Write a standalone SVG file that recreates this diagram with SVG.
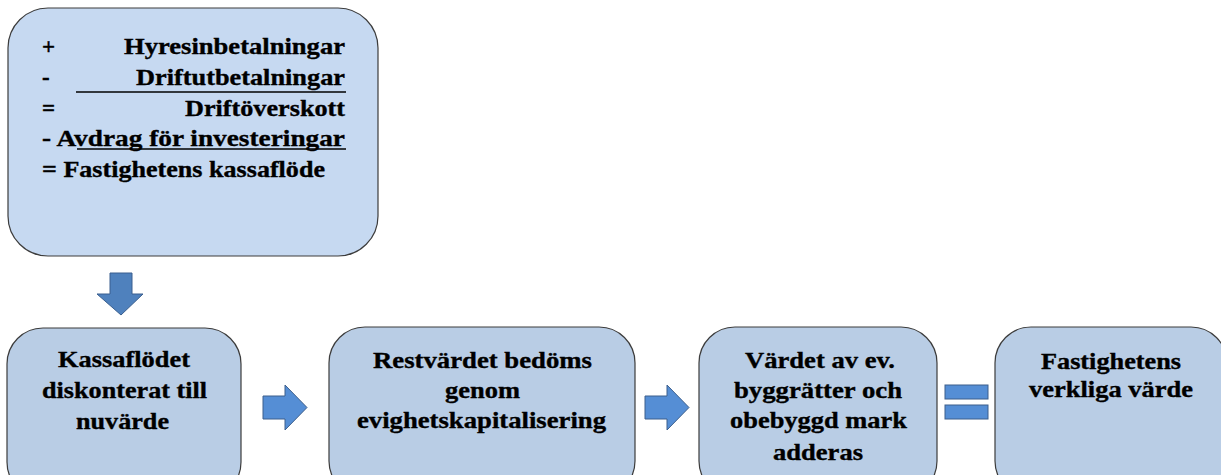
<svg xmlns="http://www.w3.org/2000/svg" width="1221" height="475" viewBox="0 0 1221 475">
<style>
.box{stroke:#3c3c3c;stroke-width:1.2}
.top{fill:#c6d9f1}
.bot{fill:#b9cde5}
.arr{fill:#558ed5;stroke:#3d5f8c;stroke-width:1}
.arrd{fill:#4f81bd;stroke:#3a5f8f;stroke-width:1}
text{font-family:'Liberation Serif','Times New Roman',serif;font-weight:bold;font-size:23px;fill:#000;stroke:#000;stroke-width:0.35}
.c{text-anchor:middle}
.e{text-anchor:end}
.ul{stroke:#000;stroke-width:1.5}
</style>
<rect width="1221" height="475" fill="#fff"/>
<g id="cashflow">
<rect class="box top" x="8" y="8" width="370" height="248" rx="40" ry="40"/>
<text x="42" y="54">+</text>
<text class="e" x="345" y="54" textLength="221" lengthAdjust="spacingAndGlyphs">Hyresinbetalningar</text>
<text x="42" y="85">-</text>
<text class="e" x="345" y="85" textLength="209" lengthAdjust="spacingAndGlyphs">Driftutbetalningar</text>
<line class="ul" x1="76" y1="92" x2="346" y2="92"/>
<text x="42" y="116">=</text>
<text class="e" x="345" y="116" textLength="160" lengthAdjust="spacingAndGlyphs">Driftöverskott</text>
<text x="42" y="146" textLength="303" lengthAdjust="spacingAndGlyphs">- Avdrag för investeringar</text>
<line class="ul" x1="77" y1="149" x2="346" y2="149"/>
<text x="42" y="177" textLength="283" lengthAdjust="spacingAndGlyphs">= Fastighetens kassaflöde</text>
</g>
<g id="discounted">
<rect class="box bot" x="7" y="328" width="234" height="170" rx="36" ry="36"/>
<text class="c" x="124" y="367" textLength="132" lengthAdjust="spacingAndGlyphs">Kassaflödet</text>
<text class="c" x="124.5" y="398" textLength="165" lengthAdjust="spacingAndGlyphs">diskonterat till</text>
<text class="c" x="122.5" y="429" textLength="93" lengthAdjust="spacingAndGlyphs">nuvärde</text>
</g>
<g id="residual">
<rect class="box bot" x="329" y="327" width="306" height="170" rx="36" ry="36"/>
<text class="c" x="482.5" y="368" textLength="219" lengthAdjust="spacingAndGlyphs">Restvärdet bedöms</text>
<text class="c" x="482.5" y="398" textLength="75" lengthAdjust="spacingAndGlyphs">genom</text>
<text class="c" x="481.5" y="428" textLength="249" lengthAdjust="spacingAndGlyphs">evighetskapitalisering</text>
</g>
<g id="buildingrights">
<rect class="box bot" x="699" y="327" width="238" height="170" rx="36" ry="36"/>
<text class="c" x="820" y="368" textLength="150" lengthAdjust="spacingAndGlyphs">Värdet av ev.</text>
<text class="c" x="818" y="398" textLength="168" lengthAdjust="spacingAndGlyphs">byggrätter och</text>
<text class="c" x="818.5" y="428" textLength="177" lengthAdjust="spacingAndGlyphs">obebyggd mark</text>
<text class="c" x="818" y="460" textLength="90" lengthAdjust="spacingAndGlyphs">adderas</text>
</g>
<g id="marketvalue">
<rect class="box bot" x="995" y="327" width="232" height="170" rx="36" ry="36"/>
<text class="c" x="1111" y="369" textLength="140" lengthAdjust="spacingAndGlyphs">Fastighetens</text>
<text class="c" x="1111" y="397" textLength="164" lengthAdjust="spacingAndGlyphs">verkliga värde</text>
</g>
<g id="connectors">
<polygon class="arrd" points="110,273 132,273 132,294 143,294 121,315 97,294 110,294"/>
<polygon class="arr" points="263,396 285,396 285,385 307,407.5 285,430 285,419 263,419"/>
<polygon class="arr" points="645,396 667,396 667,385 689,407.5 667,430 667,419 645,419"/>
<rect class="arr" x="945" y="385" width="43" height="14"/>
<rect class="arr" x="945" y="405" width="43" height="14"/>
</g>
</svg>
